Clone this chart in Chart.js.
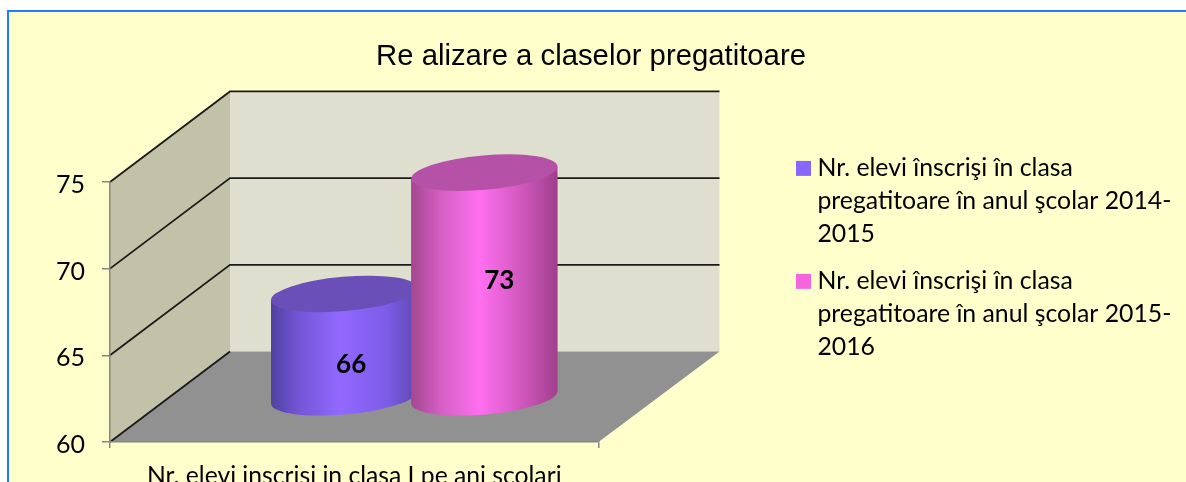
<!DOCTYPE html>
<html><head><meta charset="utf-8">
<style>
html,body{margin:0;padding:0;background:#fff;width:1186px;height:482px;overflow:hidden}
#frame{position:absolute;left:7px;top:10px;width:1300px;height:600px;border:2px solid #1e7cff;background:#ffffcc}
canvas{position:absolute;left:0;top:0}
</style>
<script src="https://cdn.jsdelivr.net/npm/chart.js@4"></script>
</head><body>
<div id="frame"></div>
<canvas id="c" width="1186" height="482"></canvas>
<script>
const titleText = "Re alizare a claselor pregatitoare";
const categories = ["Nr. elevi inscrisi in clasa I pe ani scolari"];
const series2014 = [66];
const series2015 = [73];
const legend2014 = ["Nr. elevi înscrişi în clasa", "pregatitoare în anul şcolar 2014-", "2015"];
const legend2015 = ["Nr. elevi înscrişi în clasa", "pregatitoare în anul şcolar 2015-", "2016"];
const legendColors = ["#8866ff", "#f566dd"];
const topColors = ["#6a4fb8", "#b552a8"];
const bodyStops = [
  ["#4f41a0", "#7557d9", "#9268ff", "#7d5ce6", "#5a48b0"],
  ["#a4478f", "#d35fc3", "#ff6ff0", "#c854b5", "#9f3f8d"]
];
const stopAt = [0, 0.2, 0.47, 0.8, 1];
const labelShift = [[7, 0], [15, 0]];
const labelY = [365, 281];

const DEPTH_X = 120, DEPTH_Y = -90.5;      // back wall offset
const MID_X = 60, MID_Y = -44;             // bars stand mid-depth
const TILT = -5 * Math.PI / 180, RY = 17.2, SKEW = 6;

function ell(ctx, cx, cy, rx, fill) {
  ctx.beginPath();
  ctx.ellipse(cx, cy, rx, RY, TILT, 0, Math.PI * 2);
  ctx.fillStyle = fill;
  ctx.fill();
}

const walls3d = {
  id: 'walls3d',
  beforeDraw(chart) {
    const {ctx, chartArea: a, scales: {y}} = chart;
    const b = a.bottom, t = a.top, l = a.left, r = a.right;
    ctx.save();
    ctx.fillStyle = '#dfdfd0';
    ctx.fillRect(l + DEPTH_X, t + DEPTH_Y, r - l + 1, b - t);
    ctx.fillStyle = '#c2c2a9';
    ctx.beginPath();
    ctx.moveTo(l, t); ctx.lineTo(l + DEPTH_X, t + DEPTH_Y);
    ctx.lineTo(l + DEPTH_X, b + DEPTH_Y); ctx.lineTo(l, b);
    ctx.closePath(); ctx.fill();
    ctx.fillStyle = '#919191';
    ctx.beginPath();
    ctx.moveTo(l, b); ctx.lineTo(r, b);
    ctx.lineTo(r + DEPTH_X + 1, b + DEPTH_Y); ctx.lineTo(l + DEPTH_X, b + DEPTH_Y);
    ctx.closePath(); ctx.fill();
    ctx.strokeStyle = '#1a1a1a';
    ctx.lineWidth = 1.8;
    y.ticks.forEach(tk => {
      const py = y.getPixelForValue(tk.value);
      ctx.beginPath();
      ctx.moveTo(l, py);
      ctx.lineTo(l + DEPTH_X, py + DEPTH_Y);
      if (tk.value !== y.min) ctx.lineTo(r + DEPTH_X + 1, py + DEPTH_Y);
      ctx.stroke();
    });
    ctx.restore();
  },
  beforeDatasetsDraw(chart) {
    const {ctx} = chart;
    chart.data.datasets.forEach((ds, i) => {
      const meta = chart.getDatasetMeta(i);
      const el = meta.data[0];
      const left = el.x - el.width / 2, right = el.x + el.width / 2;
      const g = ctx.createLinearGradient(left, 0, right, 0);
      bodyStops[i].forEach((c, k) => g.addColorStop(stopAt[k], c));
      el.options = Object.assign({}, el.options, {backgroundColor: g});
      const rx = el.width / 2 * 1.004;
      ctx.save();
      ctx.translate(MID_X, MID_Y);
      ell(ctx, el.x, el.base, rx, g);
      ctx.save();
      ctx.beginPath();
      ctx.moveTo(left, el.y + SKEW); ctx.lineTo(right, el.y - SKEW);
      ctx.lineTo(right, el.base - SKEW); ctx.lineTo(left, el.base + SKEW);
      ctx.closePath();
      ctx.fillStyle = g;
      ctx.fill();
      ctx.clip();
      meta.controller.draw();
      ctx.restore();
      ell(ctx, el.x, el.y, rx, topColors[i]);
      ctx.restore();
    });
    return false;
  },
  afterDraw(chart) {
    const {ctx} = chart;
    ctx.save();
    ctx.font = 'bold 26px Lato';
    ctx.fillStyle = '#000';
    ctx.textAlign = 'center';
    ctx.textBaseline = 'middle';
    chart.data.datasets.forEach((ds, i) => {
      const el = chart.getDatasetMeta(i).data[0];
      ctx.fillText(String(ds.data[0]), el.x + MID_X + labelShift[i][0], labelY[i]);
    });
    ctx.restore();
  },
  afterLayout(chart) {
    const lg = chart.legend;
    lg.left = 788; lg.right = 1186; lg.top = 142; lg.bottom = 482;
    const tb = chart.titleBlock;
    tb.left = 0; tb.right = 1182;
  }
};

new Chart(document.getElementById('c'), {
  type: 'bar',
  data: {
    labels: categories,
    datasets: [
      {label: legend2014, data: series2014, base: 60, borderWidth: 0, clip: false,
       barPercentage: 1.043, categoryPercentage: 0.574, backgroundColor: legendColors[0]},
      {label: legend2015, data: series2015, base: 60, borderWidth: 0, clip: false,
       barPercentage: 1.043, categoryPercentage: 0.574, backgroundColor: legendColors[1]}
    ]
  },
  plugins: [walls3d],
  options: {
    responsive: false,
    animation: false,
    layout: {padding: {left: 0, right: 388, top: 0, bottom: 0}},
    plugins: {
      tooltip: {enabled: false},
      title: {
        display: true, text: titleText, color: '#000',
        font: {family: 'Liberation Sans', size: 29.3, weight: 'normal', lineHeight: 1.2},
        padding: {top: 39.4, bottom: 107.4}
      },
      legend: {
        display: true, position: 'right', align: 'start',
        labels: {
          boxWidth: 3, boxHeight: 3, padding: 14, color: '#000',
          font: {family: 'Lato', size: 24.8, lineHeight: 1.33},
          generateLabels: (chart) => chart.data.datasets.map((d, i) => ({
            text: d.label, fillStyle: legendColors[i], strokeStyle: legendColors[i],
            lineWidth: 12, datasetIndex: i, hidden: false, fontColor: '#000'
          }))
        }
      }
    },
    scales: {
      x: {
        afterFit: s => { s.height = 40; },
        border: {display: true, color: '#868686', width: 1.5},
        grid: {display: true, drawOnChartArea: false, drawTicks: true, tickLength: 6, color: '#868686', lineWidth: 1.5},
        ticks: {color: '#000', padding: 13, maxRotation: 0, autoSkip: false, font: {family: 'Lato', size: 24.7}}
      },
      y: {
        min: 60, max: 75,
        afterFit: s => { s.width = 110; },
        border: {display: true, color: '#868686', width: 1.5},
        grid: {display: true, drawOnChartArea: false, drawTicks: true, tickLength: 8, color: '#868686', lineWidth: 1.5},
        ticks: {color: '#000', stepSize: 5, padding: 17, labelOffset: 3, font: {family: 'Lato', size: 25}}
      }
    }
  }
});
</script>
</body></html>
